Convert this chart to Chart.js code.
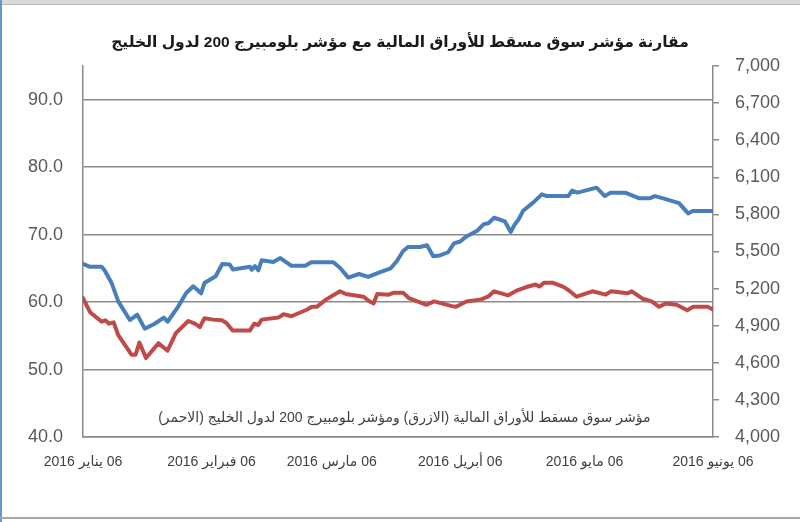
<!DOCTYPE html>
<html lang="ar">
<head>
<meta charset="utf-8">
<title>مقارنة مؤشر سوق مسقط</title>
<script src="https://cdn.jsdelivr.net/npm/chart.js@4.4.1/dist/chart.umd.min.js"></script>
<style>
  html, body { margin: 0; padding: 0; background: #ffffff; }
  #wrap { position: relative; width: 800px; height: 522px; overflow: hidden; }
  #chart { display: block; }
  .frame { position: absolute; pointer-events: none; }
  #frameTop { left: 0; top: 0; width: 800px; height: 4px; background: #d9d9d9; border-bottom: 1px solid #b8b8b8; }
  #frameLeft { left: 0; top: 0; width: 2px; height: 522px; background: #6a96cf; }
  #frameBottom { left: 0; top: 517px; width: 800px; height: 2px; background: #a6a6a6; }
</style>
</head>
<body>
<div id="wrap">
  <canvas id="chart" width="800" height="522"></canvas>
  <div class="frame" id="frameTop"></div>
  <div class="frame" id="frameLeft"></div>
  <div class="frame" id="frameBottom"></div>
</div>
<script>
// ------------------------------------------------------------
// data (x = days since 06 Jan 2016)
// ------------------------------------------------------------
const chartTitle = "مقارنة مؤشر سوق مسقط للأوراق المالية مع مؤشر بلومبيرج 200 لدول الخليج";
const noteText = "مؤشر سوق مسقط للأوراق المالية (الازرق) ومؤشر بلومبيرج 200 لدول الخليج (الاحمر)";

const monthTickDays = [0, 31, 60, 91, 121, 152];
const monthTickLabels = ["06 يناير 2016", "06 فبراير 2016", "06 مارس 2016", "06 أبريل 2016", "06 مايو 2016", "06 يونيو 2016"];

const leftTicks = [40, 50, 60, 70, 80, 90];
const rightTicks = [4000, 4300, 4600, 4900, 5200, 5500, 5800, 6100, 6400, 6700, 7000];

// Muscat MSM30 (blue, right axis)
const msmDays = [0, 1.7, 4.5, 5.2, 6.9, 8.5, 11.3, 13.1, 14.9, 17.3, 19.5, 20.4, 23.0, 24.9, 26.6, 28.5, 29.3, 32.0, 33.6, 35.4,
  36.2, 40.3, 40.7, 41.5, 42.3, 43.1, 45.9, 47.6, 50.3, 53.6, 55.1, 60.4, 62.0, 64.0, 66.6, 68.8, 71.4, 74.2, 75.7, 77.2,
  78.4, 81.3, 83.0, 84.5, 86.1, 88.1, 89.5, 91.0, 92.5, 95.1, 96.7, 97.8, 99.2, 101.8, 103.2, 104.2, 105.0, 106.2, 108.6, 110.7,
  111.9, 117.1, 118.0, 119.3, 123.9, 125.9, 127.3, 130.8, 134.1, 136.8, 138.0, 140.2, 143.8, 146.0, 147.1, 152];
const msmValues = [5400, 5376, 5376, 5348, 5246, 5097, 4946, 4989, 4876, 4916, 4966, 4932, 5057, 5165, 5219, 5162, 5246, 5300, 5399, 5395,
  5354, 5376, 5352, 5381, 5348, 5429, 5415, 5447, 5384, 5384, 5413, 5413, 5368, 5289, 5318, 5295, 5330, 5364, 5421, 5502,
  5536, 5536, 5551, 5462, 5468, 5494, 5565, 5581, 5622, 5668, 5721, 5729, 5773, 5743, 5658, 5721, 5754, 5830, 5895, 5962,
  5948, 5948, 5992, 5976, 6016, 5948, 5976, 5976, 5931, 5931, 5948, 5928, 5891, 5808, 5827, 5827];

// Bloomberg GCC 200 (red, left axis)
const gccDays = [0, 1.7, 4.5, 5.4, 6.3, 7.4, 8.5, 11.7, 12.7, 13.6, 15.2, 18.2, 20.4, 22.4, 25.4, 27.0, 28.2, 29.3, 31.4, 33.5,
  34.6, 36.1, 40.3, 41.3, 42.3, 43.1, 47.1, 48.4, 50.3, 54.1, 55.2, 56.4, 58.7, 62.0, 63.4, 67.7, 68.9, 70.1, 71.0, 73.8,
  75.0, 77.2, 78.6, 82.9, 84.7, 89.0, 90.0, 92.5, 96.1, 97.7, 99.2, 102.6, 104.6, 106.8, 109.2, 110.1, 111.2, 113.4, 115.8, 117.1,
  119.1, 122.9, 126.1, 127.4, 131.4, 132.4, 135.0, 137.2, 139.0, 140.6, 143.2, 145.8, 147.2, 150.7, 152];
const gccValues = [60.6, 58.5, 57.1, 57.3, 56.8, 57.0, 55.1, 52.2, 52.2, 54.0, 51.7, 53.9, 52.8, 55.4, 57.2, 56.8, 56.3, 57.6, 57.4, 57.3,
  56.9, 55.8, 55.8, 56.8, 56.6, 57.4, 57.7, 58.2, 57.9, 58.9, 59.3, 59.3, 60.4, 61.6, 61.2, 60.8, 60.2, 59.8, 61.2, 61.1,
  61.4, 61.4, 60.6, 59.6, 60.1, 59.4, 59.3, 60.1, 60.4, 60.8, 61.6, 61.0, 61.7, 62.2, 62.6, 62.3, 62.85, 62.85, 62.3, 61.8,
  60.8, 61.6, 61.1, 61.6, 61.3, 61.6, 60.5, 60.1, 59.3, 59.8, 59.6, 58.8, 59.3, 59.3, 58.9];

// ------------------------------------------------------------
// helpers
// ------------------------------------------------------------
const FONT = "'Liberation Sans', Arial, 'DejaVu Sans', sans-serif";
const RLE = "\u202B", PDF = "\u202C";

function toPoints(days, values) {
  return days.map((d, i) => ({ x: d, y: values[i] }));
}

// note text drawn inside plot area (like the Excel text box)
const notePlugin = {
  id: "noteText",
  afterDatasetsDraw(chart) {
    const { ctx, chartArea } = chart;
    ctx.save();
    ctx.font = "14px " + FONT;
    ctx.fillStyle = "#404040";
    ctx.direction = "rtl";
    ctx.textAlign = "center";
    ctx.textBaseline = "middle";
    const x = chartArea.left + (chartArea.right - chartArea.left) * 0.51;
    ctx.fillText(noteText, x, chartArea.bottom - 19);
    ctx.restore();
  },
};

// ------------------------------------------------------------
// chart
// ------------------------------------------------------------
new Chart(document.getElementById("chart"), {
  type: "line",
  data: {
    datasets: [
      {
        label: "مؤشر سوق مسقط",
        data: toPoints(msmDays, msmValues),
        yAxisID: "y1",
        borderColor: "#4a7ebb",
        borderWidth: 4,
        pointRadius: 0,
        tension: 0,
        borderJoinStyle: "round",
        borderCapStyle: "round",
      },
      {
        label: "مؤشر بلومبيرج 200",
        data: toPoints(gccDays, gccValues),
        yAxisID: "y",
        borderColor: "#be4b48",
        borderWidth: 4,
        pointRadius: 0,
        tension: 0,
        borderJoinStyle: "round",
        borderCapStyle: "round",
      },
    ],
  },
  options: {
    responsive: false,
    animation: false,
    devicePixelRatio: 1,
    layout: { padding: 0 },
    plugins: {
      legend: { display: false },
      tooltip: { enabled: false },
      title: {
        display: true,
        text: chartTitle,
        color: "#1a1a1a",
        font: { family: FONT, size: 15.5, weight: "bold" },
        padding: { top: 33, bottom: 14.4 },
      },
    },
    scales: {
      x: {
        type: "linear",
        min: 0,
        max: 152,
        afterBuildTicks: (scale) => {
          scale.ticks = monthTickDays.map((v) => ({ value: v }));
        },
        afterFit: (scale) => { scale.height = 85; },
        grid: { display: false, drawTicks: false },
        border: { display: true, color: "#8a8a8a", width: 1.5 },
        ticks: {
          autoSkip: false,
          maxRotation: 0,
          padding: 17,
          color: "#404040",
          font: { family: FONT, size: 14 },
          callback: (value) => {
            const i = monthTickDays.indexOf(value);
            return i >= 0 ? RLE + monthTickLabels[i] + PDF : "";
          },
        },
      },
      y: {
        position: "left",
        min: 40,
        max: 95,
        afterBuildTicks: (scale) => {
          scale.ticks = leftTicks.map((v) => ({ value: v }));
        },
        afterFit: (scale) => { scale.width = 83; },
        grid: { color: "#8a8a8a", lineWidth: 1.5, drawTicks: false },
        border: { display: true, color: "#8a8a8a", width: 1.5 },
        ticks: {
          padding: 20,
          color: "#595959",
          font: { family: FONT, size: 18 },
          callback: (v) => Number(v).toFixed(1),
        },
      },
      y1: {
        position: "right",
        min: 4000,
        max: 7000,
        afterBuildTicks: (scale) => {
          scale.ticks = rightTicks.map((v) => ({ value: v }));
        },
        afterFit: (scale) => { scale.width = 87; },
        grid: { drawOnChartArea: false, drawTicks: true, tickLength: 6, color: "#8a8a8a", lineWidth: 1.5 },
        border: { display: true, color: "#8a8a8a", width: 1.5 },
        ticks: {
          padding: 16,
          color: "#595959",
          font: { family: FONT, size: 18 },
          callback: (v) => Number(v).toLocaleString("en-US"),
        },
      },
    },
  },
  plugins: [notePlugin],
});
</script>
</body>
</html>
